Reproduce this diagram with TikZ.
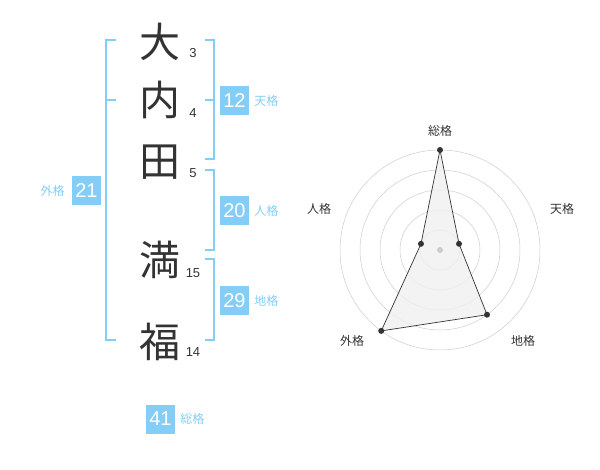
\documentclass[tikz,border=0pt]{standalone}
\usepackage{fontspec}
\setmainfont{Liberation Sans}
\newfontfamily\jpfont{Noto Sans CJK JP}
\usetikzlibrary{positioning}
\definecolor{kakublue}{HTML}{84CDF7}
\definecolor{inkgray}{HTML}{333333}
\definecolor{ringgray}{HTML}{CCCCCC}

\tikzset{
	kanji/.style={inner sep=0pt, text=inkgray, font=\jpfont\fontsize{41}{41}\selectfont},
	strokes/.style={inner sep=0pt, text=inkgray, font=\fontsize{13}{13}\selectfont},
	kakubox/.style={fill=kakublue, text=white, minimum size=29pt, inner sep=0pt, font=\fontsize{20}{20}\selectfont},
	kakulabel/.style={inner sep=0pt, text=kakublue, font=\jpfont\fontsize{12}{12}\selectfont},
	bracket/.style={draw=kakublue, line width=1.6pt},
	ring/.style={draw=ringgray, line width=0.5pt},
	axislabel/.style={inner sep=0pt, text=inkgray, font=\jpfont\fontsize{12}{12}\selectfont},
	dot/.style={circle, fill=inkgray, inner sep=0pt, minimum size=6pt}
}

\begin{document}
\begin{tikzpicture}[x=1pt, y=-1pt]
				\useasboundingbox (0,0) rectangle (600,470);

				% name and stroke counts
				\node[kanji] (c1) at (160,42) {大};
				\node[kanji] (c2) at (160,100) {内};
				\node[kanji] (c3) at (160,162) {田};
				\node[kanji] (c4) at (160,260) {満};
				\node[kanji] (c5) at (160,342) {福};
				\node[strokes] (s1) at (193,53) {3};
				\node[strokes] (s2) at (193,113) {4};
				\node[strokes] (s3) at (193,173) {5};
				\node[strokes] (s4) at (193,273) {15};
				\node[strokes] (s5) at (193,352) {14};

				% brackets
				\coordinate (ten a) at (205,40);
				\coordinate (ten m) at (205,100);
				\coordinate (ten b) at (205,159);
				\coordinate (jin a) at (205,170);
				\coordinate (jin b) at (205,250);
				\coordinate (chi a) at (205,259);
				\coordinate (chi b) at (205,340);
				\coordinate (gai a) at (116,40);
				\coordinate (gai m) at (116,100);
				\coordinate (gai b) at (116,340);

				\draw[bracket] (ten a) -- ++(9,0) |- (ten b)
				(ten m) -- ++(9,0)
				(jin a) -- ++(9,0) |- (jin b)
				(chi a) -- ++(9,0) |- (chi b)
				(gai a) -- ++(-10,0) |- (gai b)
				(gai m) -- ++(-10,0);

				% scores
				\node[kakubox] (ten) at (234.5,100.5) {12};
				\node[kakulabel, right=5pt of ten] {天格};
				\node[kakubox] (jin) at (234.5,210.5) {20};
				\node[kakulabel, right=5pt of jin] {人格};
				\node[kakubox] (chi) at (234.5,300.5) {29};
				\node[kakulabel, right=5pt of chi] {地格};
				\node[kakubox] (gai) at (86.5,190.5) {21};
				\node[kakulabel, left=7pt of gai] {外格};
				\node[kakubox] (sou) at (160.5,419) {41};
				\node[kakulabel, right=5pt of sou] {総格};

				% radar chart
				\begin{scope}[shift={(440,250)}]
					\foreach \r in {20,40,...,100}
						\draw[ring] (0,0) circle [radius=\r];
					\coordinate (p sou) at (-90:100);
					\coordinate (p ten) at (-18:20);
					\coordinate (p chi) at (54:80);
					\coordinate (p gai) at (126:100);
					\coordinate (p jin) at (198:20);
					\draw[inkgray, line width=0.7pt, fill=black!6, fill opacity=0.8]
						(p sou) -- (p ten) -- (p chi) -- (p gai) -- (p jin) -- cycle;
					\fill[ringgray] (0,0) circle [radius=3];
					\foreach \p in {sou,ten,chi,gai,jin}
						\node[dot] at (p \p) {};
				\end{scope}
				\node[axislabel] (l sou) at (440,131) {総格};
				\node[axislabel] (l ten) at (562,209) {天格};
				\node[axislabel] (l chi) at (523,341) {地格};
				\node[axislabel] (l gai) at (352,341) {外格};
				\node[axislabel] (l jin) at (319,209) {人格};
			\end{tikzpicture}
\end{document}
